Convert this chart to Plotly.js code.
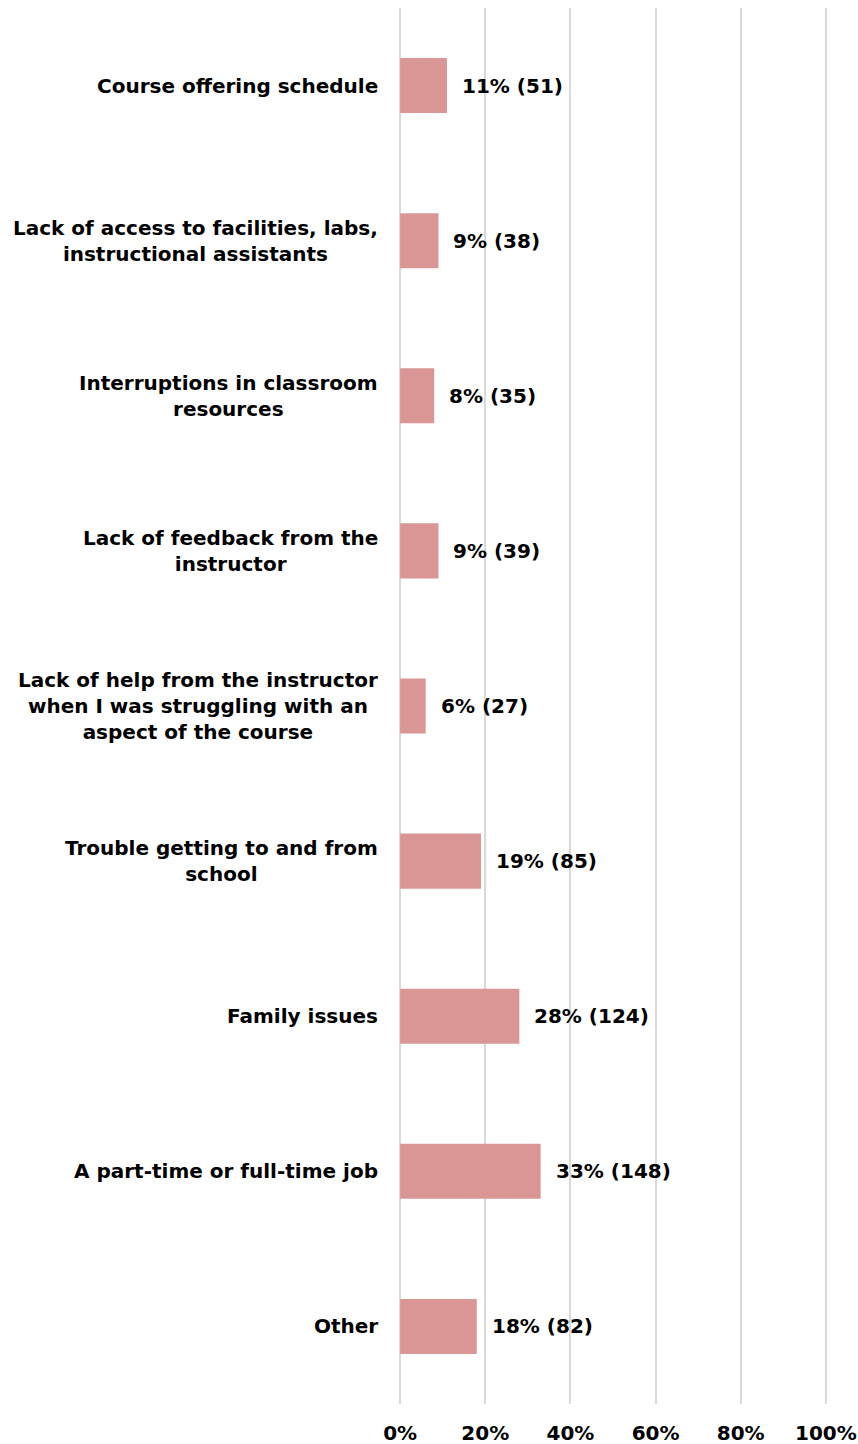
<!DOCTYPE html>
<html>
<head>
<meta charset="utf-8">
<script src="https://cdn.plot.ly/plotly-3.0.1.min.js"></script>
<style>html,body{margin:0;padding:0;background:#fff;}#chart{width:858px;height:1444px;}</style>
</head>
<body>
<div id="chart"></div>
<script>
const categories = [
  "Course offering schedule",
  "Lack of access to facilities, labs,<br>instructional assistants",
  "Interruptions in classroom<br>resources",
  "Lack of feedback from the<br>instructor",
  "Lack of help from the instructor<br>when I was struggling with an<br>aspect of the course",
  "Trouble getting to and from<br>school",
  "Family issues",
  "A part-time or full-time job",
  "Other"
];
const percents = [11, 9, 8, 9, 6, 19, 28, 33, 18];
const counts = [51, 38, 35, 39, 27, 85, 124, 148, 82];
const tickVals = [0, 20, 40, 60, 80, 100];
const tickLabels = ["0%", "20%", "40%", "60%", "80%", "100%"];

const font = {family: "'DejaVu Sans', sans-serif", size: 20, color: "#000"};

const trace = {
  type: "bar",
  orientation: "h",
  x: percents,
  y: categories,
  marker: {color: "#d99694"},
  width: 0.355,
  hoverinfo: "none"
};

const valueLabels = categories.map((c, i) => ({
  x: percents[i],
  y: c,
  xref: "x",
  yref: "y",
  text: "<b>" + percents[i] + "% (" + counts[i] + ")</b>",
  showarrow: false,
  xanchor: "left",
  yanchor: "middle",
  xshift: 13,
  font: font
}));

const categoryLabels = categories.map((c) => ({
  x: 0,
  y: c,
  xref: "paper",
  yref: "y",
  text: "<b>" + c + "</b>",
  showarrow: false,
  xanchor: "right",
  yanchor: "middle",
  align: "center",
  xshift: -18,
  font: font
}));

const layout = {
  width: 858,
  height: 1444,
  margin: {l: 398, r: 30, t: 8, b: 40},
  paper_bgcolor: "#fff",
  plot_bgcolor: "#fff",
  showlegend: false,
  font: font,
  xaxis: {
    range: [-0.5, 100.5],
    tickvals: tickVals,
    ticktext: tickLabels.map(t => "<b>" + t + "</b>"),
    showgrid: true,
    gridcolor: "#d9d9d9",
    gridwidth: 2,
    zeroline: false,
    showline: false,
    ticks: "outside",
    ticklen: 11,
    tickcolor: "rgba(0,0,0,0)",
    tickfont: font,
    fixedrange: true
  },
  yaxis: {
    autorange: "reversed",
    showgrid: false,
    zeroline: false,
    showline: false,
    showticklabels: false,
    ticks: "",
    fixedrange: true
  },
  annotations: valueLabels.concat(categoryLabels)
};

Plotly.newPlot("chart", [trace], layout, {displayModeBar: false, staticPlot: true});
</script>
</body>
</html>
